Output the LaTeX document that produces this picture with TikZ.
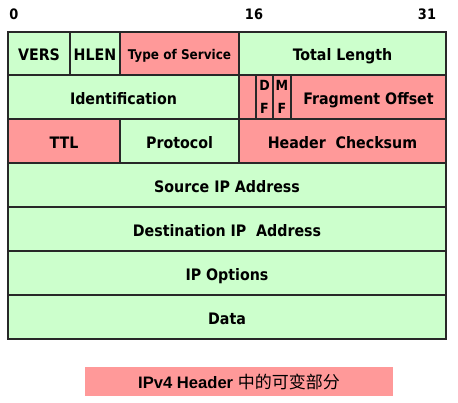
\documentclass[tikz,border=0pt]{standalone}
\usepackage{fontspec}
\setmainfont{DejaVu Sans Condensed}
\newfontfamily\capfont{Liberation Sans}
\newfontfamily\cjk{Noto Sans CJK SC}
\usetikzlibrary{positioning}
\definecolor{fldgreen}{RGB}{204,255,204}
\definecolor{fldred}{RGB}{255,153,153}
\definecolor{fldline}{RGB}{40,40,40}
\tikzset{
  fldbox/.style={draw=fldline, line width=1.5pt, fill=fldgreen, outer sep=0pt,
                 inner sep=0pt, minimum height=44pt, align=center},
  fld/.style={fldbox, text height=14.5pt, text depth=0pt,
              font=\fontsize{15.8}{18}\selectfont\bfseries},
  fldv/.style={fld, fill=fldred},
  flag/.style={fldbox, fill=fldred, font=\fontsize{14}{23}\selectfont\bfseries},
  bitno/.style={inner sep=0pt, font=\fontsize{14.4}{16}\selectfont\bfseries}
}

\begin{document}
\begin{tikzpicture}[x=1pt, y=-1pt]
  \useasboundingbox (0,0) rectangle (458,402);
  % bit positions
  \node[bitno] (b0) at (14,14) {0};
  \node[bitno] (b16) at (254,14) {16};
  \node[bitno] (b31) at (427,14) {31};
  % word 1
  \node[fld, anchor=north west, minimum width=62pt, minimum height=43pt] (vers) at (8,32) {VERS};
  \node[fld, minimum width=50pt, minimum height=43pt, right=0pt of vers] (hlen) {HLEN};
  \node[fldv, minimum width=119pt, minimum height=43pt, right=0pt of hlen, text height=12.8pt,
        font=\fontsize{13.4}{15}\selectfont\bfseries] (tos) {Type of Service};
  \node[fld, minimum width=207pt, minimum height=43pt, right=0pt of tos] (tlen) {Total Length};
  % word 2
  \node[fld, anchor=north west, minimum width=231pt] (ident) at (8,75) {Identification};
  \node[fldv, minimum width=17pt, right=0pt of ident] (rsv) {};
  \node[flag, minimum width=17pt, right=0pt of rsv] (df) {D\\F};
  \node[flag, minimum width=18pt, right=0pt of df] (mf) {M\\F};
  \node[fldv, minimum width=155pt, right=0pt of mf] (foff) {Fragment Offset};
  % word 3
  \node[fldv, anchor=north west, minimum width=112pt] (ttl) at (8,119) {TTL};
  \node[fld, minimum width=119pt, right=0pt of ttl] (proto) {Protocol};
  \node[fldv, minimum width=207pt, right=0pt of proto] (csum) {Header~~Checksum};
  % words 4-7
  \node[fld, anchor=north west, minimum width=438pt] (src) at (8,163) {Source IP Address};
  \node[fld, minimum width=438pt, below=0pt of src] (dst) {Destination IP~~Address};
  \node[fld, minimum width=438pt, below=0pt of dst] (opt) {IP Options};
  \node[fld, minimum width=438pt, below=0pt of opt] (data) {Data};
  % caption
  \node[fill=fldred, minimum width=308pt, minimum height=29pt, inner sep=0pt] (cap) at (239,381.7)
        {\capfont\fontsize{16.6}{18}\selectfont\bfseries IPv4 Header
         \cjk\mdseries\fontsize{17}{18}\selectfont 中的可变部分};
\end{tikzpicture}
\end{document}
